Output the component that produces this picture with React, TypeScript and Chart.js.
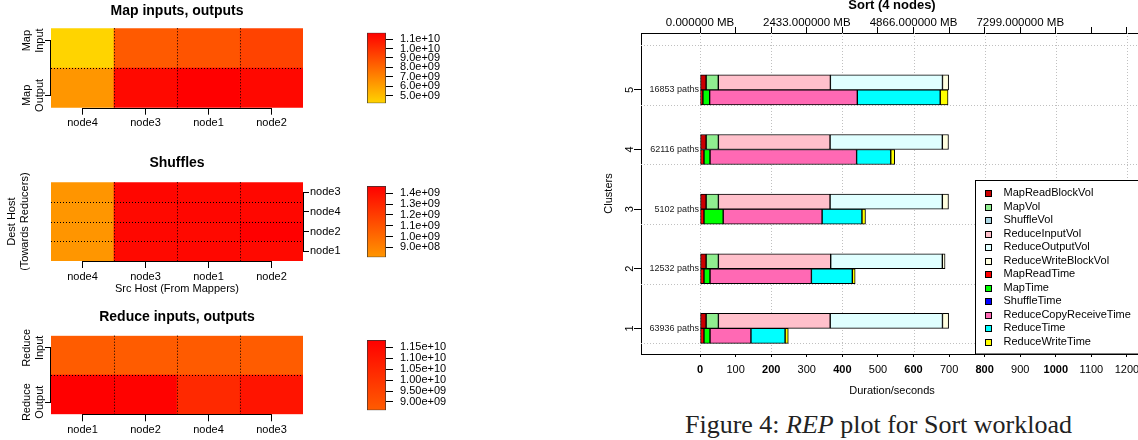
import React, { useEffect, useRef } from 'react';
import { Chart, registerables } from 'chart.js';

Chart.register(...registerables);

const FONT = "'Liberation Sans', Arial, Helvetica, sans-serif";
Chart.defaults.font.family = FONT;
Chart.defaults.color = '#000';

// ---------------- Heatmap data ----------------
const mapNodes = ['node4', 'node3', 'node1', 'node2'];
const mapInputBytes = [4.2e9, 8.5e9, 8.7e9, 9.3e9];
const mapOutputBytes = [6.4e9, 1.135e10, 1.167e10, 1.14e10];
const mapLegendTicks = [5e9, 6e9, 7e9, 8e9, 9e9, 1e10, 1.1e10];

const shuffleSrcNodes = ['node4', 'node3', 'node1', 'node2'];
const shuffleDestNodes = ['node1', 'node2', 'node4', 'node3']; // bottom to top
const shuffleToNode1 = [8.07e8, 1.43e9, 1.435e9, 1.43e9];
const shuffleToNode2 = [8.1e8, 1.435e9, 1.43e9, 1.468e9];
const shuffleToNode4 = [8.09e8, 1.43e9, 1.44e9, 1.435e9];
const shuffleToNode3 = [8.12e8, 1.44e9, 1.43e9, 1.435e9];
const shuffleLegendTicks = [9e8, 1e9, 1.1e9, 1.2e9, 1.3e9, 1.4e9];

const reduceNodes = ['node1', 'node2', 'node4', 'node3'];
const reduceInputBytes = [8.62e9, 8.62e9, 8.64e9, 8.63e9];
const reduceOutputBytes = [1.1835e10, 1.178e10, 1.04e10, 1.112e10];
const reduceLegendTicks = [9e9, 9.5e9, 1e10, 1.05e10, 1.1e10, 1.15e10];

// ---------------- REP plot data ----------------
const clusters = [1, 2, 3, 4, 5];
const clusterPaths = [63936, 12532, 5102, 62116, 16853];

// volumes in MB, clusters 1..5
const mapReadBlockVol = [138, 138, 138, 138, 138];
const mapVol = [280, 280, 280, 280, 278];
const shuffleVol = [0, 0, 0, 0, 0];
const reduceInputVol = [2548, 2560, 2545, 2545, 2555];
const reduceOutputVol = [2560, 2545, 2560, 2560, 2555];
const reduceWriteBlockVol = [140, 62, 140, 140, 140];

// durations in seconds, clusters 1..5
const mapReadTime = [11, 11, 11, 11, 8];
const mapTime = [17, 17, 54, 17, 19];
const shuffleTime = [0, 0, 0, 0, 0];
const reduceCopyReceiveTime = [115, 285, 278, 412, 415];
const reduceTime = [96, 115, 112, 96, 233];
const reduceWriteTime = [9, 8, 10, 11, 22];

const durationTicks = [0, 100, 200, 300, 400, 500, 600, 700, 800, 900, 1000, 1100, 1200];
const mbLabelTicks = [0, 300, 600, 900];
const MB_PER_SECOND = 2433 / 300;

const volumeSeries = [
  { label: 'MapReadBlockVol', values: mapReadBlockVol, color: '#CC0000' },
  { label: 'MapVol', values: mapVol, color: '#90EE90' },
  { label: 'ShuffleVol', values: shuffleVol, color: '#ADD8E6' },
  { label: 'ReduceInputVol', values: reduceInputVol, color: '#FFC0CB' },
  { label: 'ReduceOutputVol', values: reduceOutputVol, color: '#E0FFFF' },
  { label: 'ReduceWriteBlockVol', values: reduceWriteBlockVol, color: '#FFFFE0' },
];
const timeSeries = [
  { label: 'MapReadTime', values: mapReadTime, color: '#FF0000' },
  { label: 'MapTime', values: mapTime, color: '#00FF00' },
  { label: 'ShuffleTime', values: shuffleTime, color: '#0000FF' },
  { label: 'ReduceCopyReceiveTime', values: reduceCopyReceiveTime, color: '#FF69B4' },
  { label: 'ReduceTime', values: reduceTime, color: '#00FFFF' },
  { label: 'ReduceWriteTime', values: reduceWriteTime, color: '#FFFF00' },
];

// ---------------- helpers ----------------
function ramp(v: number, min: number, max: number, low: number[], high: number[]) {
  const t = max > min ? (v - min) / (max - min) : 0;
  const c = low.map((l, i) => Math.round(l + (high[i] - l) * t));
  return `rgb(${c[0]},${c[1]},${c[2]})`;
}
function fmtExp(v: number, d: number) {
  return v.toExponential(d).replace(/e([+-])(\d+)$/, (_m, s, e) => 'e' + s + String(e).padStart(2, '0'));
}
function zeroPad(sc: any) {
  sc.paddingTop = 0;
  sc.paddingBottom = 0;
  sc.paddingLeft = 0;
  sc.paddingRight = 0;
}
const css = (c: number[]) => `rgb(${c[0]},${c[1]},${c[2]})`;

// ---------------- heatmap ----------------
type HeatSpec = {
  canvasTop: number;
  canvasHeight: number;
  plotTop: number;
  plotBottom: number;
  title: string;
  titleY: number;
  columns: string[];
  rows: number[][];
  rowTicks: number[];
  low: number[];
  high: number[];
  leftLabels?: string[][];
  rightLabels?: string[];
  xTitle?: string;
  yTitle?: string[];
};
const HM_WIDTH = 354;
const HM_SIDE = 51;

function heatmapConfig(s: HeatSpec): any {
  const all = s.rows.flat();
  const min = Math.min(...all);
  const max = Math.max(...all);
  const n = s.rows.length;
  const right = !!s.rightLabels;
  const decor = {
    id: 'heatDecor',
    afterDraw(chart: any) {
      const { ctx, chartArea: a, scales } = chart;
      const xs = scales.x;
      const ys = scales.y;
      ctx.save();
      ctx.strokeStyle = '#000';
      ctx.lineWidth = 1;
      ctx.setLineDash([1, 2]);
      ctx.beginPath();
      for (let i = 0; i < s.columns.length - 1; i++) {
        const x = Math.round(xs.getPixelForValue(i + 0.5)) + 0.5;
        ctx.moveTo(x, a.top);
        ctx.lineTo(x, a.bottom);
      }
      for (let r = 1; r < n; r++) {
        const y = Math.round(ys.getPixelForValue(r)) + 0.5;
        ctx.moveTo(a.left, y);
        ctx.lineTo(a.right, y);
      }
      ctx.stroke();
      ctx.setLineDash([]);
      ctx.beginPath();
      const yb = Math.round(a.bottom) + 0.5;
      ctx.moveTo(xs.getPixelForValue(0), yb);
      ctx.lineTo(xs.getPixelForValue(s.columns.length - 1), yb);
      const ax = right ? Math.round(a.right) + 0.5 : Math.round(a.left) - 0.5;
      const tp = s.rowTicks.map((v) => ys.getPixelForValue(v));
      ctx.moveTo(ax, Math.min(...tp));
      ctx.lineTo(ax, Math.max(...tp));
      ctx.stroke();
      ctx.fillStyle = '#000';
      ctx.font = `bold 14px ${FONT}`;
      ctx.textAlign = 'center';
      ctx.textBaseline = 'middle';
      ctx.fillText(s.title, (a.left + a.right) / 2, s.titleY - s.canvasTop);
      if (s.leftLabels) {
        ctx.font = `11px ${FONT}`;
        s.leftLabels.forEach((lines, i) => {
          ctx.save();
          ctx.translate(a.left - 18, tp[i]);
          ctx.rotate(-Math.PI / 2);
          lines.forEach((t, j) => ctx.fillText(t, 0, (j - (lines.length - 1) / 2) * 13));
          ctx.restore();
        });
      }
      ctx.restore();
    },
  };
  const scales: any = {
    x: {
      type: 'category',
      stacked: true,
      offset: true,
      grid: { display: true, drawOnChartArea: false, offset: false, drawTicks: true, tickLength: 7, tickColor: '#000', color: '#000', lineWidth: 1 },
      border: { display: false },
      ticks: { color: '#000', font: { size: 11 }, padding: 2, maxRotation: 0, autoSkip: false },
      title: s.xTitle
        ? { display: true, text: s.xTitle, color: '#000', font: { size: 11 }, padding: { top: 0, bottom: 2 } }
        : { display: false },
      afterFit: (sc: any) => {
        sc.height = s.canvasTop + s.canvasHeight - s.plotBottom;
        zeroPad(sc);
      },
    },
    y: {
      type: 'linear',
      stacked: true,
      min: 0,
      max: n,
      position: right ? 'right' : 'left',
      afterBuildTicks: (sc: any) => {
        sc.ticks = s.rowTicks.map((v) => ({ value: v }));
      },
      ticks: {
        display: right,
        autoSkip: false,
        padding: 1,
        color: '#000',
        font: { size: 11 },
        callback: (_v: any, i: number) => (s.rightLabels ? s.rightLabels[i] : ''),
      },
      grid: { display: true, drawOnChartArea: false, offset: false, tickLength: 6, tickColor: '#000', color: '#000' },
      border: { display: false },
      afterFit: (sc: any) => {
        sc.width = HM_SIDE;
        zeroPad(sc);
      },
    },
  };
  if (right) {
    scales.yl = {
      type: 'linear',
      position: 'left',
      min: 0,
      max: 1,
      ticks: { display: false },
      grid: { display: false },
      border: { display: false },
      title: { display: true, text: s.yTitle, color: '#000', font: { size: 11 }, padding: { top: 5.4, bottom: 0 } },
      afterFit: (sc: any) => {
        sc.width = HM_SIDE;
        zeroPad(sc);
      },
    };
  }
  return {
    type: 'bar',
    data: {
      labels: s.columns,
      datasets: s.rows.map((vals) => ({
        data: vals.map(() => 1),
        backgroundColor: vals.map((v) => ramp(v, min, max, s.low, s.high)),
        borderWidth: 0,
        barPercentage: 1,
        categoryPercentage: 1,
        xAxisID: 'x',
        yAxisID: 'y',
      })),
    },
    options: {
      responsive: false,
      animation: false,
      devicePixelRatio: 1,
      events: [],
      layout: { padding: { top: s.plotTop - s.canvasTop, left: 0, right: right ? 0 : HM_SIDE, bottom: 0 } },
      plugins: { legend: { display: false }, tooltip: { enabled: false }, title: { display: false } },
      scales,
    },
    plugins: [decor],
  };
}

// ---------------- colour bar ----------------
function colorbarConfig(
  values: number[],
  ticks: number[],
  digits: number,
  low: number[],
  high: number[],
  canvasTop: number,
  canvasHeight: number,
  boxTop: number,
  boxBottom: number
): any {
  const min = Math.min(...values);
  const max = Math.max(...values);
  return {
    type: 'bar',
    data: {
      labels: [''],
      datasets: [
        {
          data: [[min, max]],
          backgroundColor: (c: any) => {
            const ch = c.chart;
            const a = ch.chartArea;
            if (!a) return css(high);
            const g = ch.ctx.createLinearGradient(0, a.bottom, 0, a.top);
            g.addColorStop(0, css(low));
            g.addColorStop(1, css(high));
            return g;
          },
          borderColor: '#333',
          borderWidth: 1,
          borderSkipped: false,
          barPercentage: 1,
          categoryPercentage: 1,
        },
      ],
    },
    options: {
      responsive: false,
      animation: false,
      devicePixelRatio: 1,
      events: [],
      layout: { padding: { left: 11, right: 0, top: boxTop - canvasTop, bottom: canvasTop + canvasHeight - boxBottom } },
      plugins: { legend: { display: false }, tooltip: { enabled: false } },
      scales: {
        x: { display: false },
        y: {
          position: 'right',
          min,
          max,
          afterBuildTicks: (sc: any) => {
            sc.ticks = ticks.map((v) => ({ value: v }));
          },
          ticks: { autoSkip: false, padding: 7, color: '#000', font: { size: 11 }, callback: (v: number) => fmtExp(v, digits) },
          grid: { display: true, drawOnChartArea: false, tickLength: 7, tickColor: '#000', color: '#000' },
          border: { display: false },
          afterFit: (sc: any) => {
            sc.width = 84;
            zeroPad(sc);
          },
        },
      },
    },
  };
}

// ---------------- REP chart ----------------
function mainConfig(): any {
  const datasets = [
    ...volumeSeries.map((s) => ({
      label: s.label,
      stack: 'vol',
      backgroundColor: s.color,
      data: clusters.map((c, i) => ({ y: c, x: s.values[i] / MB_PER_SECOND })),
    })),
    ...timeSeries.map((s) => ({
      label: s.label,
      stack: 'time',
      backgroundColor: s.color,
      data: clusters.map((c, i) => ({ y: c, x: s.values[i] })),
    })),
  ].map((d) => ({ ...d, xAxisID: 'x', yAxisID: 'y', borderColor: '#000', borderWidth: 1, borderSkipped: false, barThickness: 15 }));

  const decor = {
    id: 'repDecor',
    beforeDatasetsDraw(chart: any) {
      const { ctx, chartArea: a, scales } = chart;
      ctx.save();
      ctx.beginPath();
      ctx.rect(a.left, a.top, a.right - a.left, a.bottom - a.top);
      ctx.clip();
      ctx.strokeStyle = '#C0C0C0';
      ctx.lineWidth = 1;
      ctx.setLineDash([1, 2]);
      ctx.beginPath();
      durationTicks
        .filter((v) => v % 200 === 0)
        .forEach((v) => {
          const x = Math.round(scales.x.getPixelForValue(v)) + 0.5;
          ctx.moveTo(x, a.top);
          ctx.lineTo(x, a.bottom);
        });
      [...clusters, clusters.length + 1].forEach((k) => {
        const y = Math.round(scales.y.getPixelForValue(k - 0.25)) + 0.5;
        ctx.moveTo(a.left, y);
        ctx.lineTo(a.right, y);
      });
      ctx.stroke();
      ctx.restore();
    },
    afterDatasetsDraw(chart: any) {
      const { ctx, chartArea: a } = chart;
      const bx = Math.round(a.left + 334) + 0.5;
      const by = Math.round(a.top + 147) + 0.5;
      ctx.save();
      ctx.fillStyle = '#fff';
      ctx.fillRect(bx, by, 220, a.bottom - by);
      ctx.strokeStyle = '#000';
      ctx.lineWidth = 1;
      ctx.strokeRect(bx, by, 220, a.bottom - by);
      ctx.font = `11px ${FONT}`;
      ctx.textBaseline = 'middle';
      ctx.textAlign = 'left';
      chart.data.datasets.forEach((ds: any, i: number) => {
        const y = by + 12.8 + i * 13.5;
        const sy = Math.round(y - 3) + 0.5;
        ctx.fillStyle = ds.backgroundColor;
        ctx.fillRect(bx + 10, sy, 6, 6);
        ctx.strokeRect(bx + 10, sy, 6, 6);
        ctx.fillStyle = '#000';
        ctx.fillText(ds.label, bx + 28, y);
      });
      ctx.restore();
    },
    afterDraw(chart: any) {
      const { ctx, chartArea: a, scales } = chart;
      ctx.save();
      ctx.fillStyle = '#000';
      ctx.textBaseline = 'middle';
      ctx.textAlign = 'center';
      ctx.font = `bold 13px ${FONT}`;
      ctx.fillText('Sort (4 nodes)', (a.left + a.right) / 2, 5);
      ctx.font = `11px ${FONT}`;
      clusters.forEach((c) => {
        ctx.save();
        ctx.translate(a.left - 11.5, scales.y.getPixelForValue(c));
        ctx.rotate(-Math.PI / 2);
        ctx.fillText(String(c), 0, 0);
        ctx.restore();
      });
      ctx.font = `9px ${FONT}`;
      ctx.textAlign = 'right';
      ctx.fillStyle = '#222';
      clusters.forEach((c, i) => {
        ctx.fillText(`${clusterPaths[i]} paths`, scales.x.getPixelForValue(0) - 1, scales.y.getPixelForValue(c));
      });
      ctx.restore();
    },
  };

  return {
    type: 'bar',
    data: { datasets },
    options: {
      indexAxis: 'y',
      responsive: false,
      animation: false,
      devicePixelRatio: 1,
      events: [],
      layout: { padding: { left: 0, top: 0, right: 17, bottom: 0 } },
      plugins: { legend: { display: false }, tooltip: { enabled: false }, title: { display: false } },
      scales: {
        x: {
          type: 'linear',
          position: 'bottom',
          stacked: true,
          min: -166,
          max: 1245,
          afterBuildTicks: (sc: any) => {
            sc.ticks = durationTicks.map((v) => ({ value: v }));
          },
          ticks: {
            autoSkip: false,
            maxRotation: 0,
            padding: 6.4,
            color: '#000',
            font: (c: any) => ({
              size: 11,
              weight: c.tick && c.tick.value % 200 === 0 && c.tick.value <= 1000 ? 'bold' : 'normal',
            }),
            callback: (v: number) => String(v),
          },
          grid: { display: true, drawOnChartArea: false, offset: false, tickLength: 3, tickColor: '#000', color: '#000' },
          border: { display: true, color: '#000', width: 1 },
          title: { display: true, text: 'Duration/seconds', color: '#000', font: { size: 11 }, padding: { top: 0, bottom: 12 } },
          afterFit: (sc: any) => {
            sc.height = 56;
            zeroPad(sc);
          },
        },
        x2: {
          type: 'linear',
          position: 'top',
          min: -166,
          max: 1245,
          afterBuildTicks: (sc: any) => {
            sc.ticks = durationTicks.map((v) => ({ value: v }));
          },
          ticks: {
            autoSkip: false,
            maxRotation: 0,
            padding: 0,
            color: '#000',
            font: { size: 11.5, lineHeight: 0.8 },
            callback: (v: number) => (mbLabelTicks.includes(v) ? `${(v * MB_PER_SECOND).toFixed(6)} MB` : ''),
          },
          grid: { display: true, drawOnChartArea: false, offset: false, tickLength: 6, tickColor: '#000', color: '#000' },
          border: { display: true, color: '#000', width: 1 },
          afterFit: (sc: any) => {
            sc.height = 33;
            zeroPad(sc);
          },
        },
        y: {
          type: 'linear',
          position: 'left',
          min: 0.57,
          max: 5.955,
          offset: false,
          afterBuildTicks: (sc: any) => {
            sc.ticks = clusters.map((v) => ({ value: v }));
          },
          ticks: { display: false },
          grid: { display: true, drawOnChartArea: false, offset: false, tickLength: 7, tickColor: '#000', color: '#000' },
          border: { display: true, color: '#000', width: 1 },
          title: { display: true, text: 'Clusters', color: '#000', font: { size: 11 }, padding: { top: 2, bottom: 0 } },
          afterFit: (sc: any) => {
            sc.width = 41;
            zeroPad(sc);
          },
        },
      },
    },
    plugins: [decor],
  };
}

// ---------------- components ----------------
function ChartCanvas({ make, left, top, width, height }: { make: () => any; left: number; top: number; width: number; height: number }) {
  const ref = useRef<HTMLCanvasElement>(null);
  useEffect(() => {
    const chart = new Chart(ref.current as HTMLCanvasElement, make());
    return () => chart.destroy();
  }, []);
  return (
    <canvas
      ref={ref}
      width={width}
      height={height}
      style={{ position: 'absolute', left, top, width, height, display: 'block' }}
    />
  );
}

const MAP_LOW = [255, 212, 0];
const SHUFFLE_LOW = [255, 150, 0];
const REDUCE_LOW = [255, 92, 0];
const HIGH = [255, 0, 0];

export default function App() {
  return (
    <div style={{ position: 'absolute', left: 0, top: 0, width: 1138, height: 440, overflow: 'hidden', background: '#fff' }}>
      <ChartCanvas
        left={0}
        top={0}
        width={HM_WIDTH}
        height={145}
        make={() =>
          heatmapConfig({
            canvasTop: 0,
            canvasHeight: 145,
            plotTop: 28.3,
            plotBottom: 107.7,
            title: 'Map inputs, outputs',
            titleY: 11,
            columns: mapNodes,
            rows: [mapOutputBytes, mapInputBytes],
            rowTicks: [0.31, 1.69],
            low: MAP_LOW,
            high: HIGH,
            leftLabels: [
              ['Map', 'Output'],
              ['Map', 'Input'],
            ],
          })
        }
      />
      <ChartCanvas
        left={356}
        top={25}
        width={114}
        height={85}
        make={() => colorbarConfig([...mapInputBytes, ...mapOutputBytes], mapLegendTicks, 1, MAP_LOW, HIGH, 25, 85, 32.7, 103.3)}
      />
      <ChartCanvas
        left={0}
        top={148}
        width={HM_WIDTH}
        height={150}
        make={() =>
          heatmapConfig({
            canvasTop: 148,
            canvasHeight: 150,
            plotTop: 182.3,
            plotBottom: 261,
            title: 'Shuffles',
            titleY: 163.3,
            columns: shuffleSrcNodes,
            rows: [shuffleToNode1, shuffleToNode2, shuffleToNode4, shuffleToNode3],
            rowTicks: shuffleDestNodes.map((_n, i) => i + 0.5),
            low: SHUFFLE_LOW,
            high: HIGH,
            rightLabels: shuffleDestNodes,
            xTitle: 'Src Host (From Mappers)',
            yTitle: ['Dest Host', '(Towards Reducers)'],
          })
        }
      />
      <ChartCanvas
        left={356}
        top={178}
        width={114}
        height={85}
        make={() =>
          colorbarConfig(
            [...shuffleToNode1, ...shuffleToNode2, ...shuffleToNode4, ...shuffleToNode3],
            shuffleLegendTicks,
            1,
            SHUFFLE_LOW,
            HIGH,
            178,
            85,
            186,
            257.3
          )
        }
      />
      <ChartCanvas
        left={0}
        top={300}
        width={HM_WIDTH}
        height={140}
        make={() =>
          heatmapConfig({
            canvasTop: 300,
            canvasHeight: 140,
            plotTop: 335.7,
            plotBottom: 414.3,
            title: 'Reduce inputs, outputs',
            titleY: 316.7,
            columns: reduceNodes,
            rows: [reduceOutputBytes, reduceInputBytes],
            rowTicks: [0.31, 1.69],
            low: REDUCE_LOW,
            high: HIGH,
            leftLabels: [
              ['Reduce', 'Output'],
              ['Reduce', 'Input'],
            ],
          })
        }
      />
      <ChartCanvas
        left={356}
        top={332}
        width={114}
        height={85}
        make={() =>
          colorbarConfig([...reduceInputBytes, ...reduceOutputBytes], reduceLegendTicks, 2, REDUCE_LOW, HIGH, 332, 85, 340, 410.3)
        }
      />
      <div style={{ position: 'absolute', left: 600, top: 0, width: 538, height: 410, overflow: 'hidden' }}>
        <ChartCanvas left={0} top={0} width={560} height={410} make={mainConfig} />
      </div>
      <div
        style={{
          position: 'absolute',
          left: 600,
          top: 412,
          width: 557,
          textAlign: 'center',
          fontFamily: "'Liberation Serif', 'Times New Roman', serif",
          fontSize: 26,
          lineHeight: '26px',
          color: '#222',
          whiteSpace: 'nowrap',
        }}
      >
        Figure 4: <i>REP</i> plot for Sort workload
      </div>
    </div>
  );
}
